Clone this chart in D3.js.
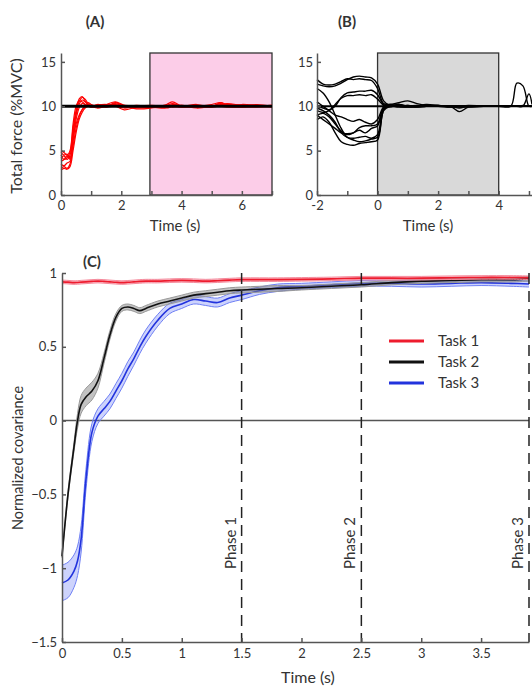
<!DOCTYPE html>
<html>
<head>
<meta charset="utf-8">
<script src="https://cdn.jsdelivr.net/npm/d3@7"></script>
<style>
  body { margin: 0; background: #fff; }
  svg text { font-family: Lato, "Open Sans", sans-serif; fill: #333; }
</style>
</head>
<body>
<svg id="fig" width="532" height="687"></svg>
<script>
// ---- Panel A: total force, task 1 trials ----
const timeA = [0,0.1,0.2,0.3,0.4,0.5,0.6,0.7,0.8,0.9,1.0,1.2,1.5,1.8,2.1,2.5,3,3.5,3.7,4,4.5,5,5.3,5.5,6,6.5,7];
const trialsA = [
  [4.5,4.0,4.2,4.8,7.5,9.5,10.5,11.0,10.8,10.3,10.0,10.1,9.9,10.4,10.0,9.8,9.9,10.2,10.5,10.0,10.0,9.9,10.4,10.2,10.1,10.0,10.0],
  [3.0,3.2,3.0,3.5,6.0,8.5,9.8,10.3,10.2,10.0,9.9,10.0,10.2,10.5,10.1,9.9,10.0,9.9,10.0,10.1,9.8,10.0,10.2,10.1,10.0,10.2,10.0],
  [5.0,4.8,4.5,5.0,8.0,10.0,10.6,10.5,10.2,10.0,10.1,9.9,10.0,10.2,9.9,10.0,9.9,10.0,10.0,9.9,10.1,10.0,10.0,9.9,10.0,10.0,10.1],
  [3.8,4.0,4.4,4.2,6.5,8.0,9.0,9.6,10.0,10.2,10.0,9.8,10.0,10.1,10.0,10.1,10.0,9.9,10.2,10.0,9.9,10.0,10.3,10.0,9.9,10.0,9.9],
  [2.8,3.0,2.9,3.2,5.0,7.0,8.5,9.3,9.8,10.0,10.1,10.0,9.9,10.0,9.6,9.9,10.0,10.0,9.9,10.0,10.0,10.1,10.0,10.2,10.0,9.9,10.0],
  [4.2,4.4,4.0,4.5,7.0,9.0,10.2,10.7,10.5,10.2,10.0,10.2,10.1,10.3,10.0,9.7,9.8,10.1,10.3,10.0,10.2,9.9,10.1,10.3,10.1,10.0,10.0],
  [3.5,3.3,3.6,3.8,5.5,7.5,8.8,9.6,10.1,10.4,10.2,10.0,10.0,10.0,10.1,10.0,9.9,9.8,10.0,10.1,9.9,10.0,10.0,10.0,10.2,10.1,10.0],
  [4.8,4.5,4.6,4.0,6.8,9.2,10.8,11.1,10.6,10.1,9.9,10.1,10.2,10.0,9.8,10.0,10.1,10.0,10.1,9.9,10.0,10.2,10.4,10.0,9.9,10.0,10.1]
];
const shadeA = [2.95, 7];

// ---- Panel B: total force, task 2 trials ----
const timeB = [-2,-1.8,-1.6,-1.4,-1.2,-1,-0.8,-0.6,-0.4,-0.2,0,0.2,0.4,0.7,1,1.3,1.6,2,2.4,2.7,3,3.5,4,4.4,4.6,4.8,5.0,5.1];
const trialsB = [
  [12.5,12.3,12.2,12.3,12.6,13.0,13.3,13.4,13.3,13.2,12.5,10.6,10.1,10.0,10.1,9.9,10.0,10.1,9.9,10.0,10.1,10.0,10.0,10.0,10.0,10.1,10.0,10.0],
  [13.0,12.5,12.4,12.5,12.8,13.1,13.0,13.1,13.0,12.9,12.0,10.3,10.2,10.4,10.6,10.3,10.1,10.0,10.0,9.8,10.0,10.0,10.0,10.0,10.0,10.0,10.0,10.0],
  [10.0,9.8,9.6,10.0,11.0,11.5,11.6,11.7,11.7,11.8,11.3,10.2,10.0,10.0,9.9,10.0,10.2,10.1,10.0,10.0,9.9,10.0,10.0,10.0,10.0,10.0,10.0,10.0],
  [9.5,9.3,9.5,10.2,10.9,11.2,11.2,11.3,11.2,11.3,10.8,10.1,9.9,10.2,10.0,10.0,10.0,10.1,10.0,9.9,10.0,10.0,10.0,10.0,10.0,10.0,11.4,10.2],
  [9.0,9.2,8.8,8.0,7.2,6.8,7.0,7.3,7.0,7.5,7.8,9.8,10.1,10.0,10.0,9.9,10.0,10.0,10.0,10.0,10.0,10.0,10.0,10.0,10.0,10.0,10.0,10.0],
  [12.0,11.5,10.5,9.0,7.5,6.5,6.2,6.0,6.1,6.3,6.5,9.5,10.0,10.2,10.0,10.1,10.0,10.0,9.9,10.0,10.0,10.0,10.0,10.0,10.0,10.0,10.0,10.0],
  [8.5,8.8,8.2,7.0,6.0,5.7,5.6,5.8,5.9,6.0,6.2,9.6,10.2,10.0,9.9,10.0,10.0,10.0,10.0,9.4,9.9,10.0,10.0,10.0,10.0,10.0,10.0,10.0],
  [9.8,9.5,9.0,8.2,7.0,6.5,6.4,6.5,6.6,6.4,6.8,9.7,10.0,9.9,10.0,10.0,10.0,10.0,10.0,10.0,10.0,10.0,10.0,10.0,12.6,12.3,10.0,10.0],
  [10.5,10.0,9.5,9.0,8.8,8.5,8.3,8.5,8.2,8.0,8.5,9.9,10.0,10.0,10.0,10.0,10.0,10.0,10.0,10.0,10.0,10.0,10.0,10.0,10.0,10.0,10.0,10.0],
  [9.0,8.5,8.0,7.5,7.0,6.9,7.0,7.6,7.8,7.8,8.0,9.8,10.0,10.0,10.1,10.0,10.0,10.0,10.0,10.0,10.0,10.0,10.0,10.0,10.0,10.0,10.0,10.0]
];
const shadeB = [0, 4];
const targetForce = 10;

// ---- Panel C: normalized covariance (mean and band half-width) ----
const timeC = [0,0.05,0.1,0.13,0.16,0.2,0.25,0.3,0.35,0.4,0.45,0.5,0.55,0.6,0.65,0.7,0.8,0.9,1.0,1.1,1.2,1.3,1.4,1.5,1.65,1.8,2.0,2.25,2.5,2.75,3.0,3.25,3.5,3.75,3.9];
const task1Mean = [0.94,0.938,0.935,0.936,0.938,0.94,0.943,0.945,0.943,0.94,0.937,0.935,0.937,0.94,0.943,0.945,0.945,0.948,0.95,0.948,0.945,0.948,0.952,0.955,0.955,0.955,0.957,0.96,0.965,0.965,0.965,0.968,0.97,0.97,0.968];
const task1Band = timeC.map(() => 0.012);
const task2Mean = [-0.92,-0.5,-0.18,0.0,0.11,0.16,0.2,0.27,0.42,0.58,0.7,0.76,0.77,0.76,0.745,0.76,0.79,0.81,0.83,0.85,0.86,0.87,0.88,0.885,0.89,0.895,0.9,0.91,0.92,0.935,0.945,0.95,0.955,0.955,0.96];
const task2Band = [0.01,0.02,0.03,0.05,0.06,0.06,0.06,0.05,0.035,0.03,0.025,0.02,0.02,0.02,0.02,0.02,0.02,0.02,0.02,0.02,0.02,0.02,0.02,0.02,0.02,0.02,0.015,0.015,0.015,0.015,0.015,0.015,0.015,0.015,0.015];
const task3Mean = [-1.1,-1.08,-1.02,-0.95,-0.8,-0.4,-0.08,0.03,0.08,0.13,0.2,0.27,0.35,0.42,0.5,0.57,0.68,0.76,0.79,0.82,0.81,0.8,0.83,0.85,0.88,0.9,0.91,0.92,0.93,0.93,0.925,0.93,0.935,0.93,0.925];
const task3Band = [0.12,0.12,0.11,0.1,0.09,0.07,0.06,0.05,0.05,0.05,0.05,0.05,0.05,0.045,0.045,0.045,0.04,0.035,0.03,0.03,0.03,0.03,0.03,0.03,0.025,0.025,0.02,0.02,0.02,0.02,0.02,0.02,0.02,0.02,0.02];
const phases = [1.5, 2.5, 3.9];
const phaseLabels = ["Phase 1", "Phase 2", "Phase 3"];
const taskNames = ["Task 1", "Task 2", "Task 3"];

const svg = d3.select("#fig");
const axisColor = "#555";

function styleAxis(g) {
  g.selectAll("path, line").attr("stroke", axisColor).attr("stroke-width", 1.5);
  g.selectAll("text").attr("fill", "#444").style("font-size", "13px")
    .style("font-family", "Lato, 'Open Sans', sans-serif");
}

// ===== Panel A =====
const xA = d3.scaleLinear([0, 7], [61, 272]);
const yA = d3.scaleLinear([0, 16], [195, 53]);

svg.append("rect")
  .attr("x", xA(shadeA[0])).attr("y", yA(16))
  .attr("width", xA(shadeA[1]) - xA(shadeA[0])).attr("height", yA(0) - yA(16))
  .attr("fill", "#fccde8").attr("stroke", "#333").attr("stroke-width", 1.3);

const lineA = d3.line().x((d, i) => xA(timeA[i])).y(d => yA(d)).curve(d3.curveCatmullRom);
svg.append("g").selectAll("path").data(trialsA).join("path")
  .attr("d", lineA).attr("fill", "none").attr("stroke", "#f00").attr("stroke-width", 1.2);

svg.append("line")
  .attr("x1", xA(0)).attr("x2", xA(7)).attr("y1", yA(targetForce)).attr("y2", yA(targetForce))
  .attr("stroke", "#000").attr("stroke-width", 3);

svg.append("g").attr("transform", `translate(0,${yA(0)})`)
  .call(d3.axisBottom(xA).tickValues(d3.range(0, 8, 1)).tickSize(-4).tickSizeOuter(0).tickPadding(6)
    .tickFormat(d => d % 2 === 0 && d < 7 ? d : ""))
  .call(styleAxis);
svg.append("g").attr("transform", `translate(${xA(0)},0)`)
  .call(d3.axisLeft(yA).tickValues([0, 5, 10, 15]).tickSize(-4).tickSizeOuter(0).tickPadding(5))
  .call(styleAxis);

svg.append("text").attr("x", 95).attr("y", 27).attr("text-anchor", "middle")
  .style("font-size", "15px").style("font-weight", "bold").attr("fill", "#111").text("(A)");
svg.append("text").attr("x", 175).attr("y", 231).attr("text-anchor", "middle")
  .style("font-size", "15px").text("Time (s)");
svg.append("text").attr("transform", "translate(22,126) rotate(-90)").attr("text-anchor", "middle")
  .style("font-size", "16px").text("Total force (%MVC)");

// ===== Panel B =====
const xB = d3.scaleLinear([-2, 5.1], [317, 532]);
const yB = d3.scaleLinear([0, 16], [195, 53]);

svg.append("rect")
  .attr("x", xB(shadeB[0])).attr("y", yB(16))
  .attr("width", xB(shadeB[1]) - xB(shadeB[0])).attr("height", yB(0) - yB(16))
  .attr("fill", "#d9d9d9").attr("stroke", "#333").attr("stroke-width", 1.3);

svg.append("line")
  .attr("x1", xB(-2)).attr("x2", xB(5.1)).attr("y1", yB(targetForce)).attr("y2", yB(targetForce))
  .attr("stroke", "#000").attr("stroke-width", 2);

const lineB = d3.line().x((d, i) => xB(timeB[i])).y(d => yB(d)).curve(d3.curveCatmullRom);
svg.append("g").selectAll("path").data(trialsB).join("path")
  .attr("d", lineB).attr("fill", "none").attr("stroke", "#000").attr("stroke-width", 1.4);

svg.append("g").attr("transform", `translate(0,${yB(0)})`)
  .call(d3.axisBottom(xB).tickValues(d3.range(-2, 6, 1)).tickSize(-4).tickSizeOuter(0).tickPadding(6)
    .tickFormat(d => d % 2 === 0 && d < 5 ? d : ""))
  .call(styleAxis);
svg.append("g").attr("transform", `translate(${xB(-2)},0)`)
  .call(d3.axisLeft(yB).tickValues([0, 5, 10, 15]).tickSize(-4).tickSizeOuter(0).tickPadding(4))
  .call(styleAxis);

svg.append("text").attr("x", 347).attr("y", 27).attr("text-anchor", "middle")
  .style("font-size", "15px").style("font-weight", "bold").attr("fill", "#111").text("(B)");
svg.append("text").attr("x", 428).attr("y", 231).attr("text-anchor", "middle")
  .style("font-size", "15px").text("Time (s)");

// ===== Panel C =====
const xC = d3.scaleLinear([0, 3.9], [62, 529]);
const yC = d3.scaleLinear([-1.5, 1], [642, 273]);

const tasks = [
  { mean: task1Mean, band: task1Band, line: "#ee1c2e", fill: "rgba(240,60,90,0.35)", edge: "#f58a9c" },
  { mean: task2Mean, band: task2Band, line: "#111", fill: "rgba(120,120,120,0.45)", edge: "#999" },
  { mean: task3Mean, band: task3Band, line: "#2233dd", fill: "rgba(90,110,245,0.3)", edge: "#6f80f5" }
];

// zero line
svg.append("line")
  .attr("x1", xC(0)).attr("x2", xC(3.9)).attr("y1", yC(0)).attr("y2", yC(0))
  .attr("stroke", axisColor).attr("stroke-width", 1.5);

const area = t => d3.area().x((d, i) => xC(timeC[i]))
  .y0((d, i) => yC(d - t.band[i])).y1((d, i) => yC(d + t.band[i])).curve(d3.curveCatmullRom);
const lineC = sign => (t) => d3.line().x((d, i) => xC(timeC[i]))
  .y((d, i) => yC(d + sign * t.band[i])).curve(d3.curveCatmullRom);

[2, 1, 0].forEach(k => {
  const t = tasks[k];
  const g = svg.append("g");
  g.append("path").attr("d", area(t)(t.mean)).attr("fill", t.fill);
  g.append("path").attr("d", lineC(1)(t)(t.mean)).attr("fill", "none").attr("stroke", t.edge).attr("stroke-width", 1);
  g.append("path").attr("d", lineC(-1)(t)(t.mean)).attr("fill", "none").attr("stroke", t.edge).attr("stroke-width", 1);
  g.append("path").attr("d", lineC(0)(t)(t.mean)).attr("fill", "none").attr("stroke", t.line).attr("stroke-width", 1.6);
});

// phase markers
svg.append("g").selectAll("line").data(phases).join("line")
  .attr("x1", d => xC(d)).attr("x2", d => xC(d)).attr("y1", yC(1)).attr("y2", yC(-1.5))
  .attr("stroke", "#222").attr("stroke-width", 1.5).attr("stroke-dasharray", "11,7");
svg.append("g").selectAll("text").data(phases).join("text")
  .attr("transform", d => `translate(${xC(d) - 6},543) rotate(-90)`)
  .attr("text-anchor", "middle").style("font-size", "15px").attr("fill", "#222")
  .text((d, i) => phaseLabels[i]);

svg.append("g").attr("transform", `translate(0,${yC(-1.5)})`)
  .call(d3.axisBottom(xC).tickValues(d3.range(0, 4, 0.5)).tickSize(-4).tickSizeOuter(0).tickPadding(7)
    .tickFormat(d3.format("~g")))
  .call(styleAxis);
svg.append("g").attr("transform", `translate(${xC(0)},0)`)
  .call(d3.axisLeft(yC).tickValues([-1.5, -1, -0.5, 0, 0.5, 1]).tickSize(-4).tickSizeOuter(0).tickPadding(5)
    .tickFormat(d3.format("~g")))
  .call(styleAxis);

// legend
const legend = svg.append("g").attr("transform", "translate(389,341)");
taskNames.forEach((name, i) => {
  legend.append("line").attr("x1", 0).attr("x2", 35).attr("y1", i * 21).attr("y2", i * 21)
    .attr("stroke", tasks[i].line).attr("stroke-width", 3);
  legend.append("text").attr("x", 49).attr("y", i * 21 + 5).style("font-size", "15px").attr("fill", "#222").text(name);
});

svg.append("text").attr("x", 92).attr("y", 267).attr("text-anchor", "middle")
  .style("font-size", "15px").style("font-weight", "bold").attr("fill", "#111").text("(C)");
svg.append("text").attr("x", 308).attr("y", 683).attr("text-anchor", "middle")
  .style("font-size", "16px").text("Time (s)");
svg.append("text").attr("transform", "translate(23,458) rotate(-90)").attr("text-anchor", "middle")
  .style("font-size", "14.5px").text("Normalized covariance");
</script>
</body>
</html>
